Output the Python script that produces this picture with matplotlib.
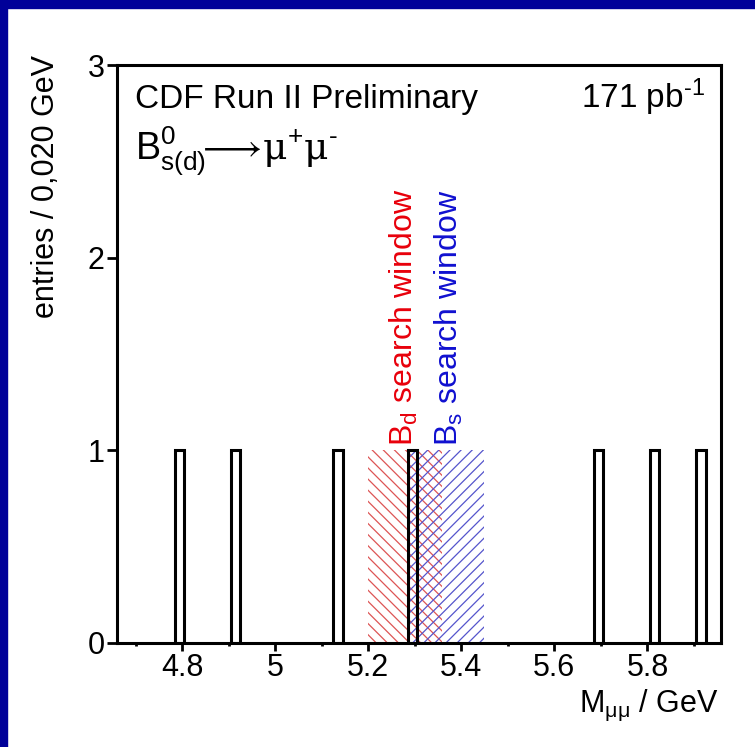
import matplotlib
matplotlib.use('Agg')
import matplotlib.pyplot as plt
from matplotlib.patches import Rectangle
from matplotlib.ticker import MultipleLocator

# Fontes parecidas com Arial (sf usado so para o mu serifado)
plt.rcParams['font.family'] = ['Liberation Sans', 'DejaVu Sans']
plt.rcParams['mathtext.fontset'] = 'custom'
plt.rcParams['mathtext.rm'] = 'Liberation Sans'
plt.rcParams['mathtext.it'] = 'Liberation Sans:italic'
plt.rcParams['mathtext.bf'] = 'Liberation Sans:bold'
plt.rcParams['mathtext.sf'] = 'DejaVu Serif'
plt.rcParams['hatch.linewidth'] = 0.9

# Dados
bin_centers = [4.795, 4.915, 5.135, 5.295, 5.695, 5.815, 5.915]
entries = [1, 1, 1, 1, 1, 1, 1]
bin_width = 0.020

# Janelas de busca (inicio, fim) e altura
bd_window = (5.199, 5.359)
bs_window = (5.289, 5.449)
window_height = 1

x_ticks = [4.8, 5.0, 5.2, 5.4, 5.6, 5.8]
x_tick_labels = ['4.8', '5', '5.2', '5.4', '5.6', '5.8']
y_ticks = [0, 1, 2, 3]

red = '#e8000b'
blue = '#1010d0'
hy = '\u2010'  # hifen curto usado nos expoentes

fig = plt.figure(figsize=(7.55, 7.47), dpi=100)
ax = fig.add_axes([117/755, 1 - 643/747, 604/755, 578/747])

# Moldura azul (topo e esquerda)
fig.patches.append(Rectangle((0, 1 - 8/747), 1, 8/747, transform=fig.transFigure,
                             color='#000099', zorder=0))
fig.patches.append(Rectangle((0, 0), 7/755, 1, transform=fig.transFigure,
                             color='#000099', zorder=0))

# Janelas hachuradas
ax.bar((bd_window[0] + bd_window[1]) / 2, window_height, width=bd_window[1] - bd_window[0],
       facecolor='none', edgecolor='#dd5555', linewidth=0, hatch='\\\\\\', zorder=1)
ax.bar((bs_window[0] + bs_window[1]) / 2, window_height, width=bs_window[1] - bs_window[0],
       facecolor='none', edgecolor='#5555cc', linewidth=0, hatch='///', zorder=1)

# Histograma
ax.bar(bin_centers, entries, width=bin_width, facecolor='none', edgecolor='black',
       linewidth=2.2, zorder=2)

ax.set_xlim(4.66, 5.958)
ax.set_ylim(0, 3)

ax.set_xticks(x_ticks)
ax.set_xticklabels(x_tick_labels)
ax.xaxis.set_minor_locator(MultipleLocator(0.1))
ax.set_yticks(y_ticks)

for s in ax.spines.values():
    s.set_linewidth(2.2)

ax.tick_params(axis='x', which='major', direction='out', length=6, width=2,
               labelsize=22, pad=1)
ax.tick_params(axis='x', which='minor', direction='out', length=2.5, width=2)
ax.tick_params(axis='y', which='major', direction='out', length=7, width=2,
               labelsize=22, pad=2)

# Textos
ax.text(0.030, 0.926, 'CDF Run II Preliminary', transform=ax.transAxes,
        fontsize=24, ha='left', va='baseline')
ax.text(0.973, 0.926, r'171 pb$^{\mathrm{' + hy + r'1}}$', transform=ax.transAxes,
        fontsize=24, ha='right', va='baseline')
ax.text(0.030, 0.836,
        r'$\mathrm{B}^{0}_{\mathrm{s(d)}}\!\!\longrightarrow\!\mathsf{\mu}^{+}\mathsf{\mu}^{' + hy + '}$',
        transform=ax.transAxes, fontsize=27, ha='left', va='baseline')

ax.text(5.276, 1.02, r'B$_{\mathrm{d}}$ search window', color=red, fontsize=23,
        rotation=90, ha='center', va='bottom')
ax.text(5.374, 1.02, r'B$_{\mathrm{s}}$ search window', color=blue, fontsize=23,
        rotation=90, ha='center', va='bottom')

ax.text(-0.118, 1.017, 'entries / 0,020 GeV', transform=ax.transAxes, fontsize=22,
        rotation=90, ha='center', va='top')
ax.text(0.995, -0.119, r'M$_{\mathrm{\mu\mu}}$ / GeV', transform=ax.transAxes,
        fontsize=22, ha='right', va='baseline')

fig.savefig('out.png', dpi=100)
